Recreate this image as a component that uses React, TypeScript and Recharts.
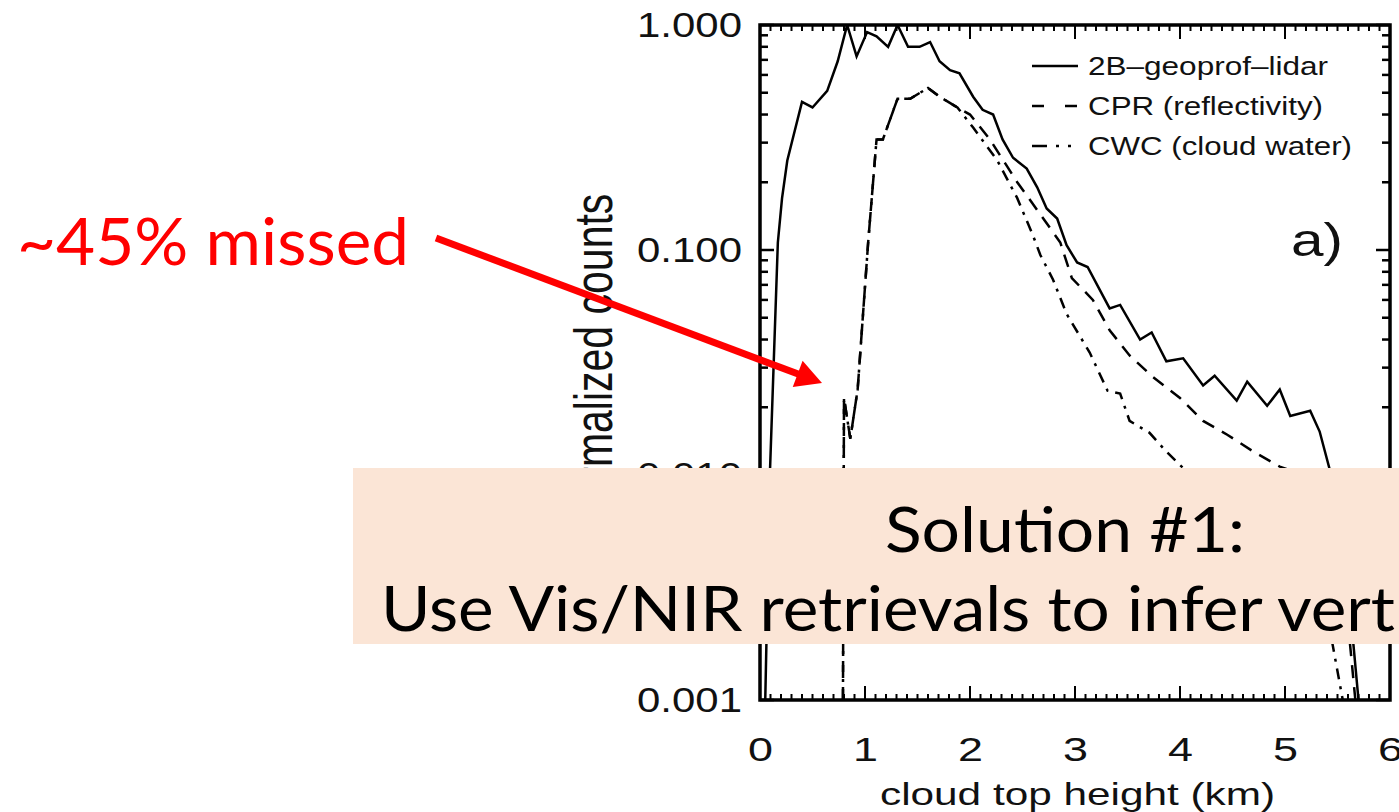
import React from "react";
import { LineChart, Line, XAxis, YAxis, ReferenceArea, Legend } from "recharts";

const W = 1399;
const H = 812;
// plot frame in page pixels
const PLOT = { left: 760, right: 1390, top: 25, bottom: 700 };

const FONT = "'Liberation Sans', Arial, sans-serif";
const SLIDE_FONT = "Lato, 'Open Sans', sans-serif";

// axis ticks
const X_MAJOR = [0, 1, 2, 3, 4, 5, 6];
const X_LABELS = ["0", "1", "2", "3", "4", "5", "6"];
const Y_MAJOR = [0.001, 0.01, 0.1, 1];
const Y_LABELS = ["0.001", "0.010", "0.100", "1.000"];
const MINOR_STEPS = [2, 3, 4, 5, 6, 7, 8, 9];

// 2B-geoprof-lidar
const LIDAR_KM = [
  0.05, 0.095, 0.17, 0.21, 0.26, 0.31, 0.4, 0.5, 0.64, 0.74, 0.83, 0.92, 1.02, 1.11, 1.22, 1.31, 1.41,
  1.52, 1.62, 1.71, 1.81, 1.9, 2.03, 2.12, 2.22, 2.31, 2.41, 2.54, 2.64, 2.73, 2.83, 2.92, 3.02, 3.12,
  3.33, 3.43, 3.62, 3.73, 3.87, 4.03, 4.22, 4.33, 4.54, 4.64, 4.83, 4.95, 5.05, 5.24, 5.33, 5.43, 5.55,
  5.65, 5.7,
];
const LIDAR_N = [
  0.001, 0.0104, 0.108, 0.17, 0.25, 0.31, 0.455, 0.43, 0.51, 0.69, 1.0, 0.725, 0.93, 0.89, 0.8, 1.0, 0.8,
  0.8, 0.84, 0.69, 0.63, 0.61, 0.48, 0.42, 0.4, 0.31, 0.257, 0.23, 0.19, 0.153, 0.138, 0.105, 0.088, 0.084,
  0.055, 0.057, 0.04, 0.043, 0.032, 0.033, 0.025, 0.0276, 0.0214, 0.026, 0.0203, 0.024, 0.0183, 0.0193,
  0.0156, 0.0104, 0.004, 0.0018, 0.001,
];

// CPR (reflectivity)
const CPR_KM = [
  0.79, 0.8, 0.86, 0.93, 1.03, 1.11, 1.17, 1.31, 1.43, 1.6, 1.71, 1.88, 2.0, 2.19, 2.45, 2.67, 2.86, 2.97,
  3.17, 3.33, 3.52, 3.74, 4.0, 4.22, 4.45, 4.7, 4.95, 5.05, 5.25, 5.45, 5.6, 5.67,
];
const CPR_N = [
  0.001, 0.022, 0.0145, 0.024, 0.108, 0.31, 0.31, 0.47, 0.47, 0.525, 0.48, 0.43, 0.4, 0.31, 0.2, 0.144,
  0.108, 0.075, 0.06, 0.044, 0.034, 0.0273, 0.022, 0.0174, 0.0151, 0.0127, 0.0109, 0.0105, 0.0075, 0.0045,
  0.0022, 0.001,
];

// CWC (cloud water)
const CWC_KM = [
  0.79, 0.8, 0.86, 0.93, 1.03, 1.11, 1.17, 1.31, 1.43, 1.6, 1.71, 1.88, 2.03, 2.26, 2.45, 2.6, 2.67, 2.79,
  2.92, 3.14, 3.31, 3.43, 3.52, 3.71, 3.87, 4.06, 4.4, 4.8, 5.2, 5.45, 5.55,
];
const CWC_N = [
  0.001, 0.022, 0.0145, 0.024, 0.108, 0.31, 0.31, 0.47, 0.47, 0.525, 0.48, 0.43, 0.35, 0.25, 0.17, 0.116,
  0.095, 0.074, 0.052, 0.035, 0.0237, 0.023, 0.0174, 0.0154, 0.0127, 0.0104, 0.0075, 0.005, 0.003, 0.0018,
  0.001,
];

const zip = (xs: number[], ys: number[]) => xs.map((x, i) => ({ x, y: ys[i] }));

const SERIES = [
  { key: "lidar", name: "2B\u2013geoprof\u2013lidar", data: zip(LIDAR_KM, LIDAR_N), dash: undefined, legendDash: undefined, labelW: 240 },
  { key: "cpr", name: "CPR (reflectivity)", data: zip(CPR_KM, CPR_N), dash: "13 9", legendDash: "12 21", labelW: 235 },
  { key: "cwc", name: "CWC (cloud water)", data: zip(CWC_KM, CWC_N), dash: "11 7 3 7", legendDash: "15 9 3 9 3 20", labelW: 264 },
];

const X_TICKS = Array.from({ length: 61 }, (_, i) => i / 10);
const Y_TICKS = [...Y_MAJOR.slice(0, 3).flatMap((d) => [d, ...MINOR_STEPS.map((m) => d * m)]), 1];

const near = (a: number, b: number) => Math.abs(a - b) < Math.abs(b) * 1e-6 + 1e-9;

function YTick(props: any) {
  const { y, payload } = props;
  const i = Y_MAJOR.findIndex((m) => near(payload.value, m));
  const len = i >= 0 ? 14 : 8;
  return (
    <g>
      <line x1={PLOT.left} x2={PLOT.left + len} y1={y} y2={y} stroke="#000" strokeWidth={2.5} />
      <line x1={PLOT.right - len} x2={PLOT.right} y1={y} y2={y} stroke="#000" strokeWidth={2.5} />
      {i >= 0 && (
        <text x={742 - 105} y={y + 12} fontSize={35} fontFamily={FONT} fill="#111"
          textLength={105} lengthAdjust="spacingAndGlyphs">
          {Y_LABELS[i]}
        </text>
      )}
    </g>
  );
}

function XTick(props: any) {
  const { x, payload } = props;
  const i = X_MAJOR.findIndex((m) => near(payload.value, m));
  const len = i >= 0 ? 14 : 6;
  return (
    <g>
      <line x1={x} x2={x} y1={PLOT.bottom} y2={PLOT.bottom - len} stroke="#000" strokeWidth={2} />
      <line x1={x} x2={x} y1={PLOT.top} y2={PLOT.top + len} stroke="#000" strokeWidth={2} />
      {i >= 0 && (
        <text x={x - 12} y={761} fontSize={34} fontFamily={FONT} fill="#111"
          textLength={25} lengthAdjust="spacingAndGlyphs">
          {X_LABELS[i]}
        </text>
      )}
    </g>
  );
}

const renderLegend = () => (
  <svg width={340} height={130} style={{ display: "block" }}>
    {SERIES.map((s, i) => (
      <g key={s.key}>
        <line x1={4} x2={50} y1={26 + i * 40} y2={26 + i * 40} stroke="#000" strokeWidth={2.5}
          strokeDasharray={s.legendDash} />
        <text x={60} y={35 + i * 40} fontSize={25} fontFamily={FONT} fill="#111"
          textLength={s.labelW} lengthAdjust="spacingAndGlyphs">
          {s.name}
        </text>
      </g>
    ))}
  </svg>
);

function Arrow({ from, to, width, head, headW, color }: any) {
  const dx = to[0] - from[0];
  const dy = to[1] - from[1];
  const len = Math.hypot(dx, dy);
  const ux = dx / len;
  const uy = dy / len;
  const bx = to[0] - ux * head;
  const by = to[1] - uy * head;
  const pts = [
    [to[0], to[1]],
    [bx - uy * headW, by + ux * headW],
    [bx + uy * headW, by - ux * headW],
  ];
  return (
    <g>
      <line x1={from[0]} y1={from[1]} x2={bx + ux * 2} y2={by + uy * 2} stroke={color} strokeWidth={width} />
      <polygon points={pts.map((p) => p.join(",")).join(" ")} fill={color} />
    </g>
  );
}

export default function App() {
  return (
    <div style={{ position: "absolute", left: 0, top: 0, width: W, height: H, background: "#fff", overflow: "hidden" }}>
      <LineChart width={W} height={H} margin={{ top: PLOT.top, right: W - PLOT.right, bottom: 0, left: 0 }}>
        <XAxis
          dataKey="x"
          type="number"
          domain={[0, 6]}
          ticks={X_TICKS}
          interval={0}
          height={H - PLOT.bottom}
          axisLine={false}
          tickLine={false}
          tick={<XTick />}
          allowDataOverflow
          label={{
            content: () => (
              <text x={880} y={805} fontSize={32} fontFamily={FONT} fill="#111"
                textLength={395} lengthAdjust="spacingAndGlyphs">
                cloud top height (km)
              </text>
            ),
          }}
        />
        <YAxis
          type="number"
          scale="log"
          domain={[0.001, 1]}
          ticks={Y_TICKS}
          interval={0}
          width={PLOT.left}
          axisLine={false}
          tickLine={false}
          tick={<YTick />}
          allowDataOverflow
          label={{
            content: () => (
              <text transform={`translate(612, 360) scale(1.33, 1) rotate(-90)`} textAnchor="middle"
                fontSize={41} fontFamily={FONT} fill="#111">
                normalized counts
              </text>
            ),
          }}
        />
        <ReferenceArea x1={0} x2={6} y1={0.001} y2={1} fill="none" fillOpacity={0} stroke="#000" strokeWidth={3.5} />
        {SERIES.map((s) => (
          <Line
            key={s.key}
            data={s.data}
            dataKey="y"
            name={s.name}
            type="linear"
            stroke="#000"
            strokeWidth={2.5}
            strokeDasharray={s.dash}
            dot={false}
            activeDot={false}
            isAnimationActive={false}
          />
        ))}
        <Legend
          layout="vertical"
          align="center"
          verticalAlign="middle"
          content={renderLegend}
          wrapperStyle={{ left: 1028, top: 40, width: 340, height: 130 }}
        />
      </LineChart>

      {/* slide annotations drawn over the figure */}
      <svg width={W} height={H} style={{ position: "absolute", left: 0, top: 0, pointerEvents: "none" }}>
        <text x={1291} y={256} fontSize={46} fontFamily={FONT} fill="#111" textLength={52} lengthAdjust="spacingAndGlyphs">
          a)
        </text>
        <text x={17} y={265} fontSize={66} fontFamily={SLIDE_FONT} fill="#ff0000" textLength={392} lengthAdjust="spacingAndGlyphs">
          ~45% missed
        </text>
        <Arrow from={[436, 238]} to={[822, 383]} width={7} head={26} headW={14} color="#ff0000" />
        <rect x={353} y={468} width={W - 353} height={176} fill="#fbe5d6" />
        <text x={885} y={552} fontSize={62} fontFamily={SLIDE_FONT} fill="#000" textLength={360} lengthAdjust="spacingAndGlyphs">
          Solution #1:
        </text>
        <text x={381} y={631} fontSize={62} fontFamily={SLIDE_FONT} fill="#000" textLength={1014} lengthAdjust="spacingAndGlyphs">
          Use Vis/NIR retrievals to infer vert
        </text>
      </svg>
    </div>
  );
}
